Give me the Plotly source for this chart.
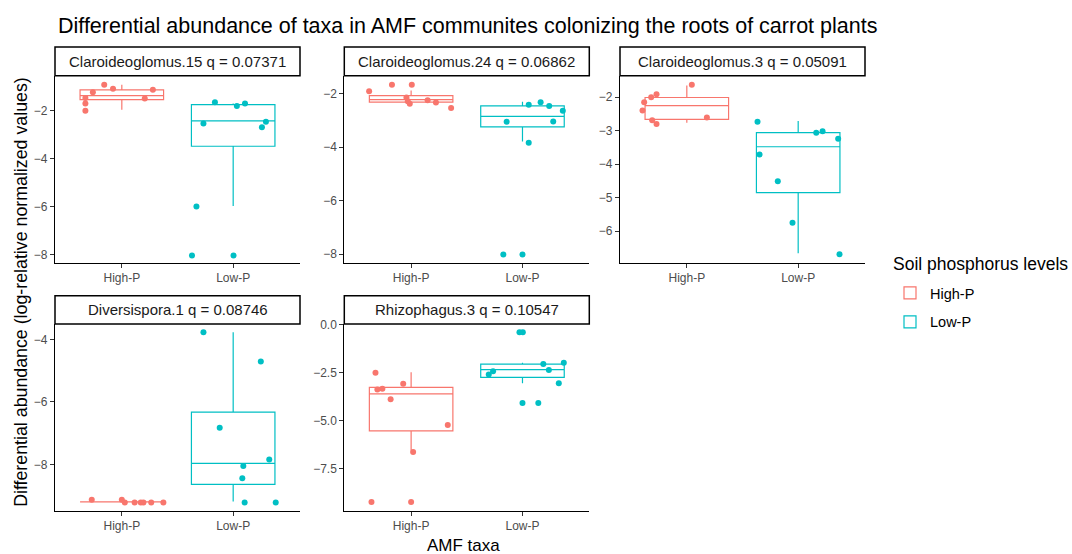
import plotly.graph_objects as go

# ---------------- data ----------------
taxa = ["Claroideoglomus.15", "Claroideoglomus.24", "Claroideoglomus.3", "Diversispora.1", "Rhizophagus.3"]
q_values = ["0.07371", "0.06862", "0.05091", "0.08746", "0.10547"]
groups = ["High-P", "Low-P"]
tick_labels = ["High-P", "Low-P"]

# box statistics per taxon (High-P)
high_q1 = [-1.54, -2.32, -2.66, -9.20, -5.53]
high_med = [-1.38, -2.22, -2.25, -9.20, -3.60]
high_q3 = [-1.14, -2.07, -2.01, -9.20, -3.26]
high_lo = [-1.96, -2.41, -2.76, -9.20, -6.55]
high_hi = [-0.92, -1.88, -1.65, -9.20, -2.48]

# box statistics per taxon (Low-P)
low_q1 = [-3.48, -3.24, -4.85, -8.64, -2.74]
low_med = [-2.43, -2.85, -3.48, -7.97, -2.34]
low_q3 = [-1.75, -2.46, -3.06, -6.33, -2.05]
low_lo = [-5.96, -3.79, -6.66, -9.19, -3.05]
low_hi = [-1.70, -2.30, -2.71, -3.77, -1.98]

# jittered observations: values and horizontal jitter offsets
high_vals = [
    [-0.92, -1.09, -1.13, -1.24, -1.47, -1.50, -1.70, -2.01],
    [-1.91, -1.67, -1.67, -2.14, -2.28, -2.38, -2.25, -2.33, -2.54],
    [-1.63, -1.91, -2.00, -2.15, -2.40, -2.69, -2.80, -2.61],
    [-9.13, -9.13, -9.22, -9.22, -9.22, -9.22, -9.22, -9.22],
    [-2.50, -3.07, -3.33, -3.38, -3.88, -5.22, -6.62, -9.22, -9.22],
]
high_jit = [
    [-0.158, -0.079, 0.279, -0.26, -0.327, 0.206, -0.327, -0.327],
    [-0.377, -0.172, 0.006, -0.042, -0.030, -0.012, 0.148, 0.223, 0.359],
    [0.045, -0.272, -0.320, -0.383, -0.398, -0.311, -0.272, 0.180],
    [-0.27, 0.0, 0.027, 0.115, 0.170, 0.194, 0.264, 0.373],
    [-0.320, -0.071, -0.258, -0.303, -0.184, 0.329, 0.018, -0.356, 0.0],
]
low_vals = [
    [-1.65, -1.70, -1.81, -2.53, -2.46, -2.69, -5.98, -8.02, -8.02],
    [-2.41, -2.32, -2.46, -2.64, -3.05, -3.04, -3.84, -8.01, -8.01],
    [-2.73, -3.06, -3.02, -3.24, -3.71, -4.51, -5.75, -6.69],
    [-3.77, -4.71, -6.83, -7.84, -8.05, -8.44, -9.22, -9.22],
    [-0.40, -0.40, -2.05, -1.98, -2.36, -2.43, -2.59, -3.05, -4.07, -4.07],
]
low_jit = [
    [-0.164, 0.106, 0.033, -0.267, 0.294, 0.258, -0.33, -0.37, 0.003],
    [0.056, 0.163, 0.240, 0.362, -0.142, 0.276, 0.056, -0.172, 0.0],
    [-0.365, 0.162, 0.219, 0.359, -0.347, -0.183, -0.051, 0.371],
    [-0.267, 0.248, -0.121, 0.324, 0.091, 0.082, 0.103, 0.382],
    [-0.027, 0.003, 0.187, 0.371, 0.237, -0.264, -0.303, 0.326, 0.0, 0.142],
]

# axis settings per panel
y_ranges = [[-8.32, -0.55], [-8.32, -1.33], [-6.94, -1.36], [-9.49, -3.51], [-9.69, 0.03]]
y_ticks = [[-8, -6, -4, -2], [-8, -6, -4, -2], [-6, -5, -4, -3, -2], [-8, -6, -4], [-7.5, -5.0, -2.5, 0.0]]
y_fmt = ["d", "d", "d", "d", ".1f"]

colors = {"High-P": "#F8766D", "Low-P": "#00BFC4"}

# ---------------- layout geometry (pixels) ----------------
W, H = 1072, 554
panel_x = [(55, 300), (344.3, 589.3), (620, 865), (55, 300), (344.3, 589.3)]
panel_y = [(70.5, 259.5), (70.5, 259.5), (70.5, 259.5), (321.5, 510.5), (321.5, 510.5)]
strip_y = [(41.5, 70.5), (41.5, 70.5), (41.5, 70.5), (293, 321.5), (293, 321.5)]

fig = go.Figure()
layout = dict()
shapes = []
annotations = []

font_family = "Liberation Sans, Arial, sans-serif"

for i, taxon in enumerate(taxa):
    n = i + 1
    xa = "x" if n == 1 else f"x{n}"
    ya = "y" if n == 1 else f"y{n}"
    stats = {
        "High-P": (high_q1[i], high_med[i], high_q3[i], high_lo[i], high_hi[i], high_vals[i], high_jit[i]),
        "Low-P": (low_q1[i], low_med[i], low_q3[i], low_lo[i], low_hi[i], low_vals[i], low_jit[i]),
    }
    for gi, g in enumerate(groups):
        q1, med, q3, lo, hi, vals, jit = stats[g]
        fig.add_trace(go.Box(
            x=[gi], q1=[q1], median=[med], q3=[q3], lowerfence=[lo], upperfence=[hi],
            width=0.75, whiskerwidth=0, boxpoints=False,
            fillcolor="rgba(255,255,255,0)",
            line=dict(color=colors[g], width=1.2),
            marker=dict(color=colors[g]),
            name=g, legendgroup=g, showlegend=(i == 0),
            xaxis=xa, yaxis=ya, hoverinfo="skip",
        ))
        fig.add_trace(go.Scatter(
            x=[gi + d for d in jit], y=vals, mode="markers",
            marker=dict(color=colors[g], size=6),
            name=g, legendgroup=g, showlegend=False,
            xaxis=xa, yaxis=ya, hoverinfo="skip",
        ))

    x0, x1 = panel_x[i]
    y0, y1 = panel_y[i]
    key_x = "xaxis" if n == 1 else f"xaxis{n}"
    key_y = "yaxis" if n == 1 else f"yaxis{n}"
    layout[key_x] = dict(
        domain=[x0 / W, x1 / W], range=[-0.6, 1.6], anchor=ya,
        tickmode="array", tickvals=[0, 1], ticktext=tick_labels,
        showline=True, linecolor="black", linewidth=1.1,
        ticks="outside", ticklen=4, tickcolor="#333333", tickwidth=1,
        showgrid=False, zeroline=False,
        tickfont=dict(size=12, color="#4D4D4D", family=font_family),
    )
    layout[key_y] = dict(
        domain=[1 - y1 / H, 1 - y0 / H], range=y_ranges[i], anchor=xa,
        tickmode="array", tickvals=y_ticks[i], tickformat=y_fmt[i],
        showline=True, linecolor="black", linewidth=1.1,
        ticks="outside", ticklen=4, tickcolor="#333333", tickwidth=1,
        showgrid=False, zeroline=False,
        tickfont=dict(size=12, color="#4D4D4D", family=font_family),
    )
    sy0, sy1 = strip_y[i]
    shapes.append(dict(type="rect", xref="paper", yref="paper",
                       x0=x0 / W, x1=x1 / W, y0=1 - sy1 / H, y1=1 - sy0 / H,
                       line=dict(color="black", width=1.5), fillcolor="white", layer="below"))
    annotations.append(dict(text=f"{taxon} q = {q_values[i]}", xref="paper", yref="paper",
                            x=(x0 + x1) / 2 / W, y=1 - (sy0 + sy1) / 2 / H,
                            xanchor="center", yanchor="middle", showarrow=False,
                            font=dict(size=15, color="#1A1A1A", family=font_family)))

annotations.append(dict(text="Differential abundance of taxa in AMF communites colonizing the roots of carrot plants",
                        xref="paper", yref="paper", x=56 / W, y=1 - 20 / H, xanchor="left", yanchor="middle",
                        showarrow=False, font=dict(size=21.5, color="black", family=font_family)))
annotations.append(dict(text="Differential abundance (log-relative normalized values)",
                        xref="paper", yref="paper", x=21 / W, y=1 - 289 / H, xanchor="center", yanchor="middle",
                        textangle=-90, showarrow=False, font=dict(size=17.8, color="black", family=font_family)))
annotations.append(dict(text="AMF taxa", xref="paper", yref="paper", x=464 / W, y=1 - 545 / H,
                        xanchor="center", yanchor="middle", showarrow=False,
                        font=dict(size=17, color="black", family=font_family)))
# legend title
annotations.append(dict(text="Soil phosphorus levels", xref="paper", yref="paper", x=891 / W, y=1 - 261 / H,
                        xanchor="left", yanchor="middle", showarrow=False,
                        font=dict(size=17.5, color="black", family=font_family)))

fig.update_layout(
    width=W, height=H, margin=dict(l=0, r=0, t=0, b=0),
    paper_bgcolor="white", plot_bgcolor="white",
    shapes=shapes, annotations=annotations,
    legend=dict(x=890 / W, y=1 - 274 / H, xanchor="left", yanchor="top",
                font=dict(size=14.5, color="black", family=font_family),
                tracegroupgap=7, bgcolor="rgba(0,0,0,0)"),
    **layout,
)

fig.write_html("out.html", config={"displayModeBar": False},
               post_script="document.body.style.margin='0px';")
